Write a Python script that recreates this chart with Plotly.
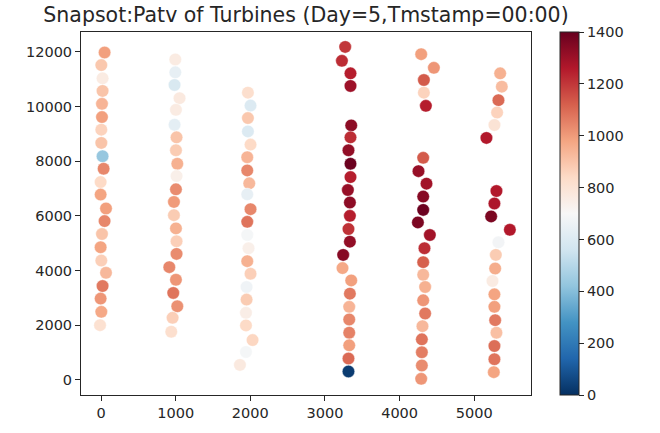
import plotly.graph_objects as go

title_text = "Snapsot:Patv of Turbines (Day=5,Tmstamp=00:00)"

# Turbine coordinates (x, y) and active power Patv, grouped by turbine column
col1_x = [48, 4, 21, 21, 13, 13, 4, 4, 21, 35, -5, -5, 67, 48, 13, -5, 4, 67, 21, -5, 4, -13]
col1_y = [11977, 11515, 11032, 10570, 10097, 9614, 9152, 8668, 8181, 7723, 7236, 6778, 6268, 5807,
          5334, 4850, 4363, 3916, 3432, 2971, 2487, 2000]
col1_p = [990, 890, 760, 900, 940, 990, 860, 900, 430, 1040, 840, 980, 990, 1040, 900, 980, 870, 930,
          1070, 1010, 970, 810]

col2_x = [995, 995, 985, 1052, 1004, 985, 1012, 1004, 1022, 1012, 1004, 977, 977, 1004, 1012, 1012,
          915, 1004, 968, 1022, 959, 941]
col2_y = [11722, 11250, 10788, 10305, 9879, 9334, 8872, 8399, 7905, 7454, 6970, 6508, 6025, 5541,
          5069, 4607, 4123, 3661, 3178, 2691, 2269, 1760]
col2_p = [760, 640, 590, 770, 760, 630, 900, 880, 950, 740, 1030, 1000, 880, 950, 870, 1030, 1040,
          1010, 1080, 1020, 870, 820]

col3_x = [1968, 2003, 1968, 1968, 2003, 1959, 1959, 1986, 1959, 2003, 1959, 1959, 1976, 1959, 2003,
          1950, 1950, 1942, 1942, 2030, 1942, 1861]
col3_y = [10508, 10035, 9577, 9090, 8606, 8145, 7661, 7188, 6788, 6243, 5781, 5298, 4814, 4341, 3880,
          3396, 2934, 2451, 1989, 1454, 1018, 545]
col3_p = [820, 600, 890, 600, 840, 940, 1040, 930, 640, 1040, 1080, 690, 740, 950, 870, 670, 880, 750,
          840, 850, 690, 770]

col4_x = [3271, 3227, 3342, 3342, 3352, 3342, 3315, 3342, 3342, 3307, 3334, 3334, 3315, 3334, 3244,
          3235, 3352, 3334, 3325, 3325, 3325, 3325, 3315, 3315]
col4_y = [12181, 11672, 11213, 10752, 9308, 8872, 8399, 7905, 7417, 6945, 6487, 5999, 5516, 5054,
          4571, 4087, 3636, 3152, 2669, 2207, 1723, 1262, 778, 305]
col4_p = [1200, 1220, 1250, 1300, 1330, 1220, 1320, 1390, 1250, 1310, 1330, 1250, 1210, 1320, 1340,
          970, 990, 1070, 940, 1040, 1050, 990, 1100, 30]

col5_x = [4289, 4459, 4325, 4325, 4352, 4316, 4253, 4360, 4316, 4316, 4245, 4405, 4333, 4316, 4316,
          4342, 4316, 4342, 4306, 4298, 4298, 4298, 4289]
col5_y = [11915, 11417, 10970, 10508, 10024, 8123, 7636, 7177, 6705, 6218, 5759, 5298, 4814, 4305,
          3843, 3396, 2909, 2425, 1963, 1480, 1007, 524, 36]
col5_p = [990, 1010, 1130, 860, 1250, 1130, 1310, 1290, 1340, 1390, 1360, 1290, 1220, 1120, 930, 950,
          1010, 1070, 930, 1080, 1060, 1030, 1010]

col6_x = [5347, 5369, 5324, 5306, 5270, 5163, 5297, 5270, 5226, 5477, 5324, 5289, 5280, 5244, 5270,
          5270, 5280, 5297, 5270, 5270, 5262]
col6_y = [11213, 10726, 10232, 9781, 9323, 8850, 6908, 6450, 5978, 5490, 5032, 4571, 4072, 3614, 3127,
          2669, 2182, 1723, 1236, 753, 280]
col6_p = [950, 920, 1100, 860, 800, 1260, 1260, 1270, 1360, 1260, 680, 880, 960, 760, 980, 990, 1070,
          910, 1090, 1080, 980]

x_ticks = [0, 1000, 2000, 3000, 4000, 5000]
y_ticks = [0, 2000, 4000, 6000, 8000, 10000, 12000]
cbar_ticks = [0, 200, 400, 600, 800, 1000, 1200, 1400]

xs = col1_x + col2_x + col3_x + col4_x + col5_x + col6_x
ys = col1_y + col2_y + col3_y + col4_y + col5_y + col6_y
ps = col1_p + col2_p + col3_p + col4_p + col5_p + col6_p

rdbu = ['rgb(5,48,97)', 'rgb(33,102,172)', 'rgb(67,147,195)', 'rgb(146,197,222)', 'rgb(209,229,240)',
        'rgb(247,247,247)', 'rgb(253,219,199)', 'rgb(244,165,130)', 'rgb(214,96,77)', 'rgb(178,24,43)',
        'rgb(103,0,31)']
colorscale = [[i / (len(rdbu) - 1), c] for i, c in enumerate(rdbu)]

font_family = "DejaVu Sans"
text_color = "#262626"

fig = go.Figure(go.Scatter(
    x=xs, y=ys, mode="markers",
    marker=dict(
        size=12.5, color=ps, colorscale=colorscale, cmin=0, cmax=1400,
        line=dict(width=0.6, color="rgba(255,255,255,0.7)"),
        colorbar=dict(
            tickvals=cbar_ticks, ticktext=[str(v) for v in cbar_ticks],
            ticks="outside", ticklen=5, tickwidth=1, tickcolor=text_color,
            thickness=19, len=1, lenmode="fraction", y=0.5, yanchor="middle", ypad=0,
            x=560 / 660, xref="container", xanchor="left", xpad=0,
            outlinewidth=1, outlinecolor=text_color,
            tickfont=dict(family=font_family, size=14.5, color=text_color),
        ),
    ),
    hoverinfo="skip",
))

axis_common = dict(
    showgrid=False, zeroline=False, showline=True, linecolor=text_color, linewidth=1, mirror=True,
    ticks="outside", ticklen=5, tickwidth=1, tickcolor=text_color,
    tickfont=dict(family=font_family, size=14.5, color=text_color),
)

fig.update_layout(
    width=660, height=433,
    margin=dict(l=81, r=129, t=32, b=36),
    paper_bgcolor="white", plot_bgcolor="white",
    showlegend=False,
    title=dict(text=title_text, x=306 / 660, xanchor="center", xref="container",
               y=1 - 15 / 433, yanchor="middle", yref="container",
               font=dict(family=font_family, size=20.5, color=text_color)),
    xaxis=dict(range=[-268, 5760], tickvals=x_ticks, ticktext=[str(v) for v in x_ticks], **axis_common),
    yaxis=dict(range=[-556, 12727], tickvals=y_ticks, ticktext=[str(v) for v in y_ticks], **axis_common),
)

fig.write_html("out.html", config={"displayModeBar": False},
               post_script="document.body.style.margin='0px';")
